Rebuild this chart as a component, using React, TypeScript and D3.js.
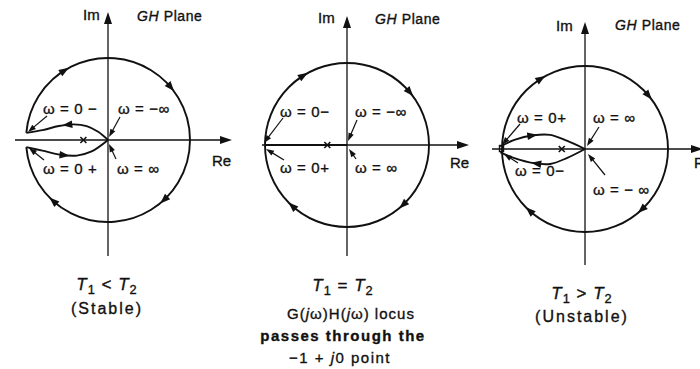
import React, { useEffect, useRef } from "react";
import * as d3 from "d3";

type Pt = [number, number];

// Polar (Nyquist) loci of G(jω)H(jω) in the GH plane.
// Re / Im are expressed in units of the large mapping circle (radius 1).
const stableUpper: Pt[] = [[0, 0], [-0.12, 0.1], [-0.26, 0.17], [-0.42, 0.19], [-0.6, 0.17], [-0.8, 0.12], [-0.996, 0.087]];
const stableLower: Pt[] = [[-0.996, -0.087], [-0.8, -0.13], [-0.58, -0.18], [-0.38, -0.19], [-0.2, -0.14], [0, 0]];
const criticalLocus: Pt[] = [[0, 0], [-1, 0]];
const unstableUpper: Pt[] = [[-1.02, 0.03], [-0.85, 0.11], [-0.62, 0.165], [-0.42, 0.17], [-0.22, 0.1], [0, 0]];
const unstableLower: Pt[] = [[0, 0], [-0.22, -0.11], [-0.42, -0.18], [-0.62, -0.17], [-0.85, -0.11], [-1.02, -0.04]];

const panelLoci: Pt[][][] = [[stableUpper, stableLower], [criticalLocus], [unstableUpper, unstableLower]];
// position of the -1 + j0 point on the real axis
const minusOneRe = [-0.3, -0.24, -0.28];
// gap (degrees) left open in the big circle at the negative real axis
const circleGap = [5, 0, 0];
// direction arrows on the big circle (screen angle, degrees)
const circleArrowAngles = [-122, -40, 47, 132];

const omegaLabels = [
  ["ω = 0 −", "ω = −∞", "ω = 0 +", "ω = ∞"],
  ["ω = 0−", "ω = −∞", "ω = 0+", "ω = ∞"],
  ["ω = 0+", "ω = ∞", "ω = 0−", "ω = − ∞"],
];
const relationSigns = ["<", "=", ">"];
const captionNotes = [["(Stable)"], ["G(jω)H(jω) locus", "passes through the", "−1 + j0 point"], ["(Unstable)"]];

// drawing layout for the three plane diagrams
const layout = [
  {
    ox: 108, oy: 140, r: 82, imTop: 12, imBottom: 256, reLeft: 15, reRight: 232,
    imLabel: [83, 20], ghLabel: [137, 21], reLabel: [212, 166],
    omegaPos: [[43, 114], [118, 114], [43, 174], [117, 174]],
    pointers: [[[47, 116], [28, 132]], [[120, 117], [109, 137]], [[44, 160], [29, 148]], [[116, 159], [109, 144]]],
    lociArrows: [0.52, 0.45],
    captionX: 107, captionY: [290, 314],
  },
  {
    ox: 347, oy: 145, r: 82, imTop: 16, imBottom: 256, reLeft: 262, reRight: 469,
    imLabel: [318, 23], ghLabel: [375, 24], reLabel: [450, 168],
    omegaPos: [[280, 117], [355, 117], [280, 173], [355, 173]],
    pointers: [[[283, 118], [264, 143]], [[357, 120], [348, 141]], [[284, 160], [266, 149]], [[356, 159], [349, 149]]],
    lociArrows: [],
    captionX: 343, captionY: [291, 319, 341, 363],
  },
  {
    ox: 585, oy: 149, r: 83, imTop: 22, imBottom: 265, reLeft: 492, reRight: 703,
    imLabel: [556, 31], ghLabel: [615, 30], reLabel: [694, 168],
    omegaPos: [[517, 123], [593, 123], [515, 176], [593, 195]],
    pointers: [[[520, 124], [502, 145]], [[599, 127], [587, 146]], [[518, 163], [504, 154]], [[605, 175], [588, 154]]],
    lociArrows: [0.38, 0.58],
    captionX: 582, captionY: [299, 322],
  },
];

type Seg = { t: string; italic?: boolean; sub?: boolean; bold?: boolean };

export default function App() {
  const ref = useRef<SVGSVGElement>(null);

  useEffect(() => {
    const svg = d3.select(ref.current);
    svg.selectAll("*").remove();
    const ink = "#111";
    const font = "'Liberation Sans', Arial, sans-serif";

    const arrowHead = (g: any, x: number, y: number, ux: number, uy: number, len: number, hw: number) => {
      const bx = x - ux * len, by = y - uy * len;
      const px = -uy, py = ux;
      g.append("path")
        .attr("d", `M${x},${y}L${bx + px * hw},${by + py * hw}L${bx - px * hw},${by - py * hw}Z`)
        .attr("fill", ink);
    };

    const label = (g: any, x: number, y: number, size: number) =>
      g.append("text").attr("x", x).attr("y", y).attr("font-family", font).attr("font-size", size)
        .attr("fill", ink).attr("stroke", ink).attr("stroke-width", 0.35);

    const richText = (g: any, x: number, y: number, segs: Seg[], size: number, anchor: string, spacing: number) => {
      const t = label(g, x, y, size).attr("text-anchor", anchor).attr("letter-spacing", spacing);
      let shift = 0;
      segs.forEach((s) => {
        const target = s.sub ? 4 : 0;
        const sp = t.append("tspan").text(s.t).attr("dy", target - shift);
        shift = target;
        if (s.italic) sp.attr("font-style", "italic");
        if (s.bold) sp.attr("font-weight", "bold");
        if (s.sub) sp.attr("font-size", size * 0.75);
      });
      return t;
    };

    layout.forEach((L, i) => {
      const x = d3.scaleLinear().domain([-1, 1]).range([L.ox - L.r, L.ox + L.r]);
      const y = d3.scaleLinear().domain([-1, 1]).range([L.oy + L.r, L.oy - L.r]);
      const g = svg.append("g");

      // axes
      g.append("line").attr("x1", L.reLeft).attr("x2", L.reRight - 8).attr("y1", y(0)).attr("y2", y(0))
        .attr("stroke", ink).attr("stroke-width", 1.3);
      arrowHead(g, L.reRight, y(0), 1, 0, 12, 4);
      g.append("line").attr("x1", x(0)).attr("x2", x(0)).attr("y1", L.imBottom).attr("y2", L.imTop + 8)
        .attr("stroke", ink).attr("stroke-width", 1.3);
      arrowHead(g, x(0), L.imTop, 0, -1, 12, 4);

      // big mapping circle
      const gap = (circleGap[i] * Math.PI) / 180;
      const a0 = -Math.PI + gap, a1 = Math.PI - gap;
      const cx = x(0), cy = y(0), R = L.r;
      const cp = d3.path();
      cp.moveTo(cx + R * Math.cos(a0), cy + R * Math.sin(a0));
      cp.arc(cx, cy, R, a0, a1, false);
      g.append("path").attr("d", cp.toString()).attr("fill", "none").attr("stroke", ink).attr("stroke-width", 1.9);
      circleArrowAngles.forEach((deg) => {
        const a = (deg * Math.PI) / 180;
        const px = cx + R * Math.cos(a), py = cy + R * Math.sin(a);
        const ux = -Math.sin(a), uy = Math.cos(a);
        arrowHead(g, px + ux * 5, py + uy * 5, ux, uy, 10, 3.8);
      });

      // loci
      const line = d3.line<Pt>().x((d) => x(d[0])).y((d) => y(d[1])).curve(d3.curveCatmullRom.alpha(0.5));
      panelLoci[i].forEach((pts, k) => {
        const path = g.append("path").attr("d", line(pts)).attr("fill", "none").attr("stroke", ink)
          .attr("stroke-width", 1.9);
        const frac = L.lociArrows[k];
        if (frac !== undefined) {
          const node = path.node() as SVGPathElement;
          const len = node.getTotalLength();
          const p0 = node.getPointAtLength(len * frac - 1);
          const p1 = node.getPointAtLength(len * frac + 1);
          const dx = p1.x - p0.x, dy = p1.y - p0.y;
          const n = Math.hypot(dx, dy) || 1;
          arrowHead(g, (p0.x + p1.x) / 2 + (dx / n) * 5, (p0.y + p1.y) / 2 + (dy / n) * 5, dx / n, dy / n, 10, 3.8);
        }
      });

      // -1 + j0 point marker
      const mx = x(minusOneRe[i]), my = y(0);
      g.append("path").attr("d", `M${mx - 3},${my - 3}L${mx + 3},${my + 3}M${mx - 3},${my + 3}L${mx + 3},${my - 3}`)
        .attr("stroke", ink).attr("stroke-width", 1.6);
      if (i === 2) {
        g.append("rect").attr("x", x(-1) - 2.5).attr("y", y(0) - 3.5).attr("width", 4).attr("height", 6)
          .attr("fill", "none").attr("stroke", ink).attr("stroke-width", 1.4);
      }

      // frequency labels with pointer arrows
      omegaLabels[i].forEach((lab, k) => {
        const [tx, ty] = L.omegaPos[k];
        label(g, tx, ty, 15).attr("letter-spacing", 0.6).text(lab);
        const [[sx, sy], [ex, ey]] = L.pointers[k];
        const dx = ex - sx, dy = ey - sy, n = Math.hypot(dx, dy);
        const ux = dx / n, uy = dy / n;
        g.append("line").attr("x1", sx).attr("y1", sy).attr("x2", ex - ux * 6).attr("y2", ey - uy * 6)
          .attr("stroke", ink).attr("stroke-width", 1.2);
        arrowHead(g, ex, ey, ux, uy, 8, 2.8);
      });

      // axis names and plane title
      label(g, L.imLabel[0], L.imLabel[1], 15).text("Im");
      label(g, L.reLabel[0], L.reLabel[1], 15).text("Re");
      richText(g, L.ghLabel[0], L.ghLabel[1], [{ t: "GH", italic: true }, { t: " Plane" }], 14, "start", 0.6);

      // captions
      richText(g, L.captionX, L.captionY[0], [
        { t: "T", italic: true }, { t: "1", sub: true }, { t: ` ${relationSigns[i]} ` },
        { t: "T", italic: true }, { t: "2", sub: true },
      ], 17, "middle", 1);
      captionNotes[i].forEach((note, k) => {
        const yy = L.captionY[k + 1];
        if (note.startsWith("G(")) {
          richText(g, L.captionX + 8, yy, [
            { t: "G(" }, { t: "j", italic: true }, { t: "ω)H(" }, { t: "j", italic: true }, { t: "ω) locus" },
          ], 15, "middle", 1);
        } else if (note.startsWith("passes")) {
          richText(g, L.captionX, yy, [{ t: note, bold: true }], 15, "middle", 1.5);
        } else if (note.includes("j0")) {
          richText(g, L.captionX - 3, yy, [{ t: "−1 + " }, { t: "j", italic: true }, { t: "0 point" }], 15, "middle", 1.5);
        } else {
          richText(g, L.captionX, yy, [{ t: note }], 16, "middle", 2);
        }
      });
    });
  }, []);

  return (
    <svg ref={ref} width={700} height={369} viewBox="0 0 700 369"
      style={{ position: "absolute", left: 0, top: 0, background: "#fff", display: "block" }} />
  );
}
